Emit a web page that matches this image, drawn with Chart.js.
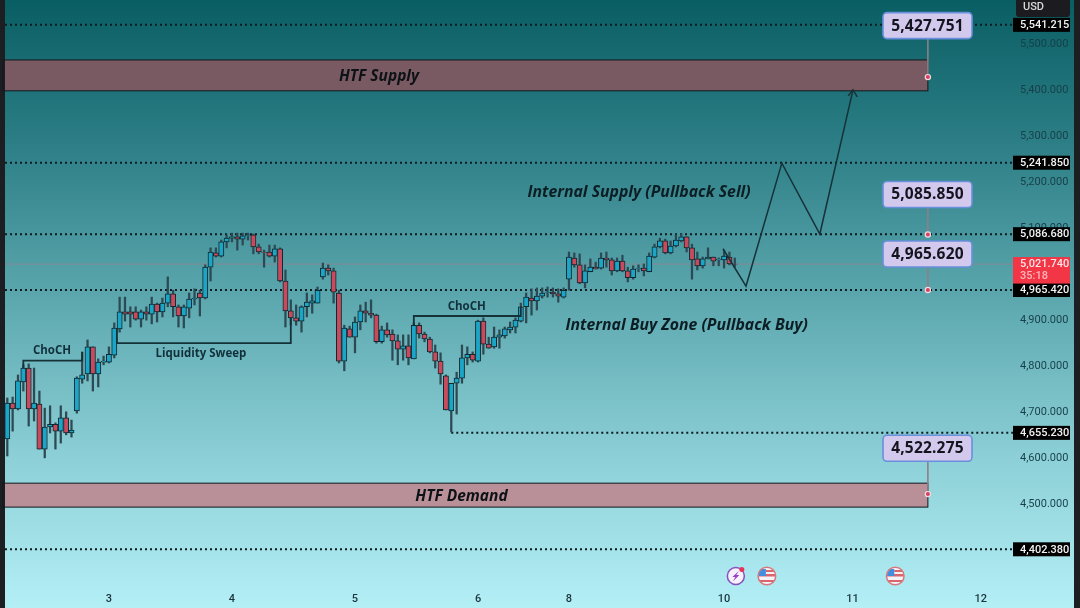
<!DOCTYPE html>
<html>
<head>
<meta charset="utf-8">
<title>XAUUSD 1H</title>
<script src="https://cdn.jsdelivr.net/npm/chart.js@4/dist/chart.umd.min.js"></script>
<style>
  html, body { margin: 0; padding: 0; background: #1c1e22; overflow: hidden; }
  canvas { display: block; }
</style>
</head>
<body>
<canvas id="priceChart" width="1080" height="608"></canvas>
<script>
// ---------------- DATA ----------------
const candleOpen = [
  4642,4720,4707,4766,4796,4707,4718,4620,4668,4674,
  4659,4688,4655,4703,4772,4783,4842,4783,4809,4809,
  4824,4881,4918,4918,4918,4902,4918,4913,4935,4918,
  4937,4957,4929,4909,4926,4946,4959,4948,5015,5046,
  5039,5070,5078,5081,5076,5084,5085,5059,5048,5048,
  5039,5055,4985,4920,4905,4898,4929,4937,4937,4994,
  5013,5007,4959,4811,4881,4863,4896,4920,4915,4911,
  4853,4879,4870,4855,4837,4844,4816,4889,4870,4859,
  4831,4811,4779,4703,4763,4774,4818,4826,4811,4898,
  4848,4842,4863,4866,4879,4885,4898,4929,4948,4942,
  4952,4960,4961,4957,4950,4989,5035,5020,4981,5005,
  5015,5013,5035,5031,5007,5028,5007,4992,5011,5013,
  5005,5037,5059,5072,5046,5061,5072,5081,5057,5033,
  5018,5033,5037,5031,5031,5037,5022
];
const candleHigh = [
  4731,4733,4781,4803,4805,4796,4746,4709,4714,4677,
  4714,4701,4683,4777,4831,4857,4842,4816,4822,4842,
  4894,4950,4950,4929,4929,4922,4929,4950,4937,4948,
  4994,4965,4933,4933,4959,4968,4965,5020,5057,5057,
  5074,5085,5089,5089,5089,5089,5087,5065,5052,5063,
  5063,5057,5009,4944,4933,4931,4959,4955,4972,5024,
  5020,5013,4965,4889,4887,4907,4933,4939,4944,4913,
  4887,4894,4879,4868,4868,4868,4894,4894,4874,4863,
  4846,4829,4781,4763,4787,4846,4842,4831,4900,4905,
  4863,4885,4879,4885,4896,4905,4937,4959,4968,4970,
  4970,4972,4970,4968,4970,5048,5046,5044,5020,5033,
  5026,5046,5048,5035,5035,5041,5015,5018,5020,5022,
  5046,5065,5078,5076,5072,5085,5087,5081,5065,5048,
  5037,5057,5037,5035,5052,5048,5035
];
const candleLow = [
  4605,4659,4705,4746,4670,4681,4620,4601,4655,4620,
  4633,4651,4646,4698,4763,4768,4746,4755,4803,4807,
  4818,4874,4898,4885,4900,4885,4900,4892,4896,4907,
  4929,4907,4885,4883,4905,4933,4909,4946,4985,5037,
  5037,5057,5070,5052,5063,5074,5044,5044,5015,5037,
  5026,4983,4885,4889,4889,4874,4907,4915,4937,4989,
  4998,4937,4807,4790,4863,4829,4879,4896,4905,4850,
  4850,4863,4813,4803,4813,4803,4816,4861,4853,4829,
  4796,4761,4705,4657,4696,4763,4803,4809,4809,4826,
  4839,4839,4839,4861,4872,4872,4896,4894,4911,4922,
  4948,4950,4950,4939,4948,4965,5015,4979,4970,5005,
  5011,5011,5015,4998,5005,5005,4983,4989,5005,4996,
  5005,5035,5057,5044,5044,5059,5070,5048,4989,5009,
  5013,5033,5018,5018,5013,5020,5015
];
const candleClose = [
  4720,4707,4768,4796,4707,4720,4620,4668,4674,4659,
  4688,4655,4661,4774,4781,4842,4783,4809,4811,4826,
  4883,4918,4913,4913,4902,4918,4913,4935,4918,4937,
  4957,4929,4909,4929,4946,4948,4948,5015,5048,5039,
  5070,5078,5081,5076,5083,5085,5059,5048,5047,5039,
  5055,4985,4920,4905,4898,4929,4939,4942,4965,5013,
  5007,4961,4811,4883,4863,4896,4920,4915,4911,4853,
  4879,4868,4855,4837,4844,4818,4889,4870,4859,4831,
  4811,4783,4705,4763,4774,4818,4826,4813,4898,4848,
  4839,4863,4868,4881,4885,4900,4929,4950,4942,4952,
  4959,4961,4957,4952,4965,5037,5020,4981,5007,5015,
  5011,5035,5031,5007,5028,5007,4992,5011,5012,5007,
  5039,5059,5072,5046,5061,5074,5081,5057,5031,5018,
  5033,5037,5028,5032,5039,5022,5021.74
];

// price axis and date axis
const priceTicks = [5500,5400,5300,5200,5100,5000,4900,4800,4700,4600,4500];
const dayTickBars = [19,42,65,88,105,134,158,182];
const dayTickLabels = ['3','4','5','6','8','10','11','12'];

// horizontal levels, the bar each one starts from
const levelPrices = [5541.215,5241.85,5086.68,4965.42,4655.23,4402.38];
const levelStartBars = [-0.43,-0.43,-0.43,-0.43,83,-0.43];
const lastPrice = 5021.74;
const countdownText = '35:18';

// supply / demand zones
const zoneNames = ['HTF Supply','HTF Demand'];
const zoneTops = [5465,4546];
const zoneBottoms = [5398,4494];
const zoneEndBar = 172.1;

// projected path and its arrow head
const pathBars = [133.8,138.1,144.8,151.9,158.1];
const pathPrices = [5055,4974,5241,5087,5400];
const headBars = [157.2,158.1,158.9];
const headPrices = [5387,5400,5385];

// market structure lines
const chochOneBars = [3,3,14,14];
const chochOnePrices = [4796,4812,4812,4831];
const chochTwoBars = [76,76,96,96];
const chochTwoPrices = [4889,4909,4909,4929];
const sweepBars = [20.5,20.5,53,53];
const sweepPrices = [4883,4850,4850,4905];

// price callouts
const calloutValues = [5427.751,5085.85,4965.62,4522.275];

// chart notes
const noteTexts = ['Internal Supply (Pullback Sell)','Internal Buy Zone (Pullback Buy)','ChoCH','ChoCH','Liquidity Sweep'];
const noteBars = [118.1,127,8.36,85.9,36.2];
const notePrices = [5178,4888,4833,4929,4827];

// calendar events under the candles
const flagEventBars = [142,166];
const alertEventBars = [136.2];

// ---------------- HELPERS ----------------
const fmtPrice = v => v.toLocaleString('en-US', { minimumFractionDigits: 3, maximumFractionDigits: 3 });
const bars = candleOpen.map((_, i) => i);
const xy = (xs, ys) => xs.map((x, i) => ({ x: x, y: ys[i] }));

function roundBox(ctx, x, y, w, h, r) {
  ctx.beginPath();
  ctx.roundRect(x, y, w, h, r);
}

// ---------------- BACKGROUND + ZONES ----------------
const backdropPlugin = {
  id: 'backdrop',
  beforeDraw(chart) {
    const ctx = chart.ctx;
    ctx.save();
    ctx.fillStyle = '#1c1e22';
    ctx.fillRect(0, 0, 1080, 608);
    const g = ctx.createLinearGradient(0, 0, 0, 608);
    g.addColorStop(0, '#095e63');
    g.addColorStop(0.25, '#2f8088');
    g.addColorStop(0.5, '#5ea9b0');
    g.addColorStop(0.75, '#8ccfd6');
    g.addColorStop(1, '#b4eff6');
    ctx.fillStyle = g;
    ctx.fillRect(5, 0, 1069, 608);
    ctx.restore();
  },
  beforeDatasetsDraw(chart) {
    const ctx = chart.ctx;
    const x = chart.scales.x;
    const y = chart.scales.y;
    const left = chart.chartArea.left;
    const right = x.getPixelForValue(zoneEndBar);
    const fills = ['#7a5a62', '#b98f98'];

    ctx.save();
    zoneNames.forEach((name, i) => {
      const top = y.getPixelForValue(zoneTops[i]);
      const bottom = y.getPixelForValue(zoneBottoms[i]);
      ctx.fillStyle = fills[i];
      ctx.fillRect(left, top, right - left, bottom - top);
      ctx.strokeStyle = '#10181c';
      ctx.lineWidth = 1;
      ctx.strokeRect(left - 2, top, right - left + 2, bottom - top);
      ctx.fillStyle = '#0c1216';
      ctx.font = 'italic 700 15.5px "Open Sans"';
      ctx.textAlign = 'center';
      ctx.textBaseline = 'middle';
      const cx = i === 0 ? 379 : 461.5;
      ctx.fillText(name, cx, (top + bottom) / 2 + 1);
    });
    ctx.restore();
  }
};

// ---------------- NOTES, CALLOUTS, AXIS TAGS ----------------
const overlayPlugin = {
  id: 'overlay',
  afterDraw(chart) {
    const ctx = chart.ctx;
    const x = chart.scales.x;
    const y = chart.scales.y;
    ctx.save();

    // chart notes
    ctx.textAlign = 'center';
    ctx.textBaseline = 'middle';
    noteTexts.forEach((t, i) => {
      ctx.font = i < 2 ? 'italic 700 15.8px "Open Sans"' : '700 11.5px "Open Sans"';
      ctx.fillStyle = i < 2 ? '#0c1e24' : '#12303a';
      ctx.fillText(t, x.getPixelForValue(noteBars[i]), y.getPixelForValue(notePrices[i]));
    });

    // callouts hang above a dot on their price
    const lift = [51.5, 40, 36, 45.8];
    const stem = x.getPixelForValue(zoneEndBar);
    calloutValues.forEach((v, i) => {
      const dotY = y.getPixelForValue(v);
      const midY = dotY - lift[i];
      ctx.strokeStyle = '#8f7f88';
      ctx.lineWidth = 1.6;
      ctx.beginPath();
      ctx.moveTo(stem, midY);
      ctx.lineTo(stem, dotY);
      ctx.stroke();
      ctx.beginPath();
      ctx.arc(stem, dotY, 2.6, 0, Math.PI * 2);
      ctx.fillStyle = '#d8405e';
      ctx.fill();
      ctx.strokeStyle = '#f3dbe2';
      ctx.lineWidth = 1.2;
      ctx.stroke();

      roundBox(ctx, 883, midY - 13, 89, 26, 4);
      ctx.fillStyle = '#d3c9ec';
      ctx.fill();
      ctx.strokeStyle = '#6a8fdc';
      ctx.lineWidth = 1.6;
      ctx.stroke();
      ctx.fillStyle = '#14141e';
      ctx.font = '700 15.5px "Noto Sans"';
      ctx.letterSpacing = '0.2px';
      ctx.fillText(fmtPrice(v), 927.5, midY + 0.5);
      ctx.letterSpacing = '0px';
    });

    // price axis tags
    ctx.textAlign = 'left';
    ctx.font = '500 11px Roboto';
    levelPrices.forEach(v => {
      const py = y.getPixelForValue(v);
      ctx.fillStyle = '#000';
      ctx.fillRect(1013, py - 7, 57, 14);
      ctx.fillStyle = '#f2f2f2';
      ctx.fillText(fmtPrice(v), 1020, py + 0.5);
    });
    const lastY = y.getPixelForValue(lastPrice);
    ctx.fillStyle = '#f23645';
    ctx.fillRect(1013, lastY - 7, 57, 26.5);
    ctx.fillStyle = '#fbe3e6';
    ctx.fillText(fmtPrice(lastPrice), 1020, lastY);
    ctx.fillStyle = '#f9b6bd';
    ctx.fillText(countdownText, 1020, lastY + 12);

    // currency tag
    roundBox(ctx, 1016, -4, 54, 21, 3);
    ctx.fillStyle = '#1c1c20';
    ctx.fill();
    ctx.fillStyle = '#d8d8d8';
    ctx.fillText('USD', 1023, 7);

    // calendar events
    flagEventBars.forEach(b => drawFlagEvent(ctx, x.getPixelForValue(b), 576));
    alertEventBars.forEach(b => drawAlertEvent(ctx, x.getPixelForValue(b), 576));
    ctx.restore();
  }
};

function drawFlagEvent(ctx, cx, cy) {
  ctx.save();
  ctx.beginPath();
  ctx.arc(cx, cy, 8.5, 0, Math.PI * 2);
  ctx.fillStyle = '#f4f4f8';
  ctx.fill();
  ctx.clip();
  ctx.fillStyle = '#d9666c';
  ctx.fillRect(cx - 9, cy - 2, 18, 2.5);
  ctx.fillRect(cx - 9, cy + 4, 18, 2);
  ctx.fillRect(cx - 1, cy - 6, 9, 2);
  ctx.fillStyle = '#3f8fe0';
  ctx.fillRect(cx - 8, cy - 7, 7, 7);
  ctx.restore();
  ctx.beginPath();
  ctx.arc(cx, cy, 8.8, 0, Math.PI * 2);
  ctx.strokeStyle = '#d9777c';
  ctx.lineWidth = 1.5;
  ctx.stroke();
}

function drawAlertEvent(ctx, cx, cy) {
  ctx.beginPath();
  ctx.arc(cx, cy, 8.5, 0, Math.PI * 2);
  ctx.fillStyle = '#f6f2fb';
  ctx.fill();
  ctx.strokeStyle = '#8a4ec0';
  ctx.lineWidth = 1.5;
  ctx.stroke();
  ctx.beginPath();
  ctx.moveTo(cx + 3, cy - 5);
  ctx.lineTo(cx - 3.5, cy + 1);
  ctx.lineTo(cx - 0.5, cy + 1);
  ctx.lineTo(cx - 3, cy + 5.5);
  ctx.lineTo(cx + 3.5, cy - 1);
  ctx.lineTo(cx + 0.5, cy - 1);
  ctx.closePath();
  ctx.fillStyle = '#9a3fc8';
  ctx.fill();
  ctx.beginPath();
  ctx.arc(cx + 6, cy - 6.5, 2.5, 0, Math.PI * 2);
  ctx.fillStyle = '#e8335a';
  ctx.fill();
}

// ---------------- CHART ----------------
const darkLine = '#163239';
const thinPath = (label, xs, ys, width) => ({
  type: 'line',
  label: label,
  data: xy(xs, ys),
  borderColor: darkLine,
  borderWidth: width,
  pointRadius: 0,
  tension: 0,
  order: 1
});

const levelDatasets = levelPrices.map((v, i) => ({
  type: 'line',
  label: 'level ' + v,
  data: [{ x: levelStartBars[i], y: v }, { x: 188.2, y: v }],
  borderColor: '#0c1d22',
  borderWidth: 2,
  borderDash: [2, 3],
  pointRadius: 0,
  order: 6
}));

new Chart(document.getElementById('priceChart'), {
  type: 'bar',
  data: {
    datasets: [
      {
        label: 'wicks',
        data: bars.map(i => ({ x: i, y: [candleLow[i], candleHigh[i]] })),
        backgroundColor: '#2d4a54',
        barThickness: 1.6,
        grouped: false,
        order: 4
      },
      {
        label: 'bodies',
        data: bars.map(i => ({ x: i, y: [candleOpen[i], candleClose[i]] })),
        backgroundColor: bars.map(i => candleClose[i] >= candleOpen[i] ? '#1ba5c6' : '#c94a5c'),
        borderColor: '#10282f',
        borderWidth: 1,
        borderSkipped: false,
        barThickness: 5.2,
        grouped: false,
        order: 3
      },
      {
        type: 'line',
        label: 'last price',
        data: [{ x: -0.43, y: lastPrice }, { x: 188.2, y: lastPrice }],
        borderColor: 'rgba(190,110,130,0.45)',
        borderWidth: 1,
        pointRadius: 0,
        order: 5
      },
      ...levelDatasets,
      thinPath('path', pathBars, pathPrices, 1.5),
      thinPath('arrow head', headBars, headPrices, 1.5),
      thinPath('choch 1', chochOneBars, chochOnePrices, 1.8),
      thinPath('choch 2', chochTwoBars, chochTwoPrices, 1.8),
      thinPath('sweep', sweepBars, sweepPrices, 1.8)
    ]
  },
  options: {
    responsive: false,
    animation: false,
    layout: { padding: { left: 5, right: 6, top: 0, bottom: 0 } },
    plugins: { legend: { display: false }, tooltip: { enabled: false } },
    scales: {
      x: {
        type: 'linear',
        offset: false,
        min: -0.43,
        max: 188.2,
        border: { display: false },
        grid: { display: false, drawTicks: false },
        afterBuildTicks: s => { s.ticks = dayTickBars.map(v => ({ value: v })); },
        afterFit: s => { s.height = 18; s.paddingLeft = 0; s.paddingRight = 0; },
        ticks: {
          autoSkip: false,
          maxRotation: 0,
          padding: 3,
          color: '#1b343c',
          font: { family: 'Roboto', size: 11, weight: '500' },
          callback: v => dayTickLabels[dayTickBars.indexOf(v)]
        }
      },
      y: {
        position: 'right',
        min: 4314,
        max: 5595.2,
        border: { display: false },
        grid: { display: false, drawTicks: false },
        afterBuildTicks: s => { s.ticks = priceTicks.map(v => ({ value: v })); },
        afterFit: s => { s.width = 60; s.paddingTop = 0; s.paddingBottom = 0; },
        ticks: {
          autoSkip: false,
          padding: 6,
          color: '#173f48',
          font: { family: 'Roboto', size: 11 },
          callback: v => fmtPrice(v)
        }
      }
    }
  },
  plugins: [backdropPlugin, overlayPlugin]
});
</script>
</body>
</html>
